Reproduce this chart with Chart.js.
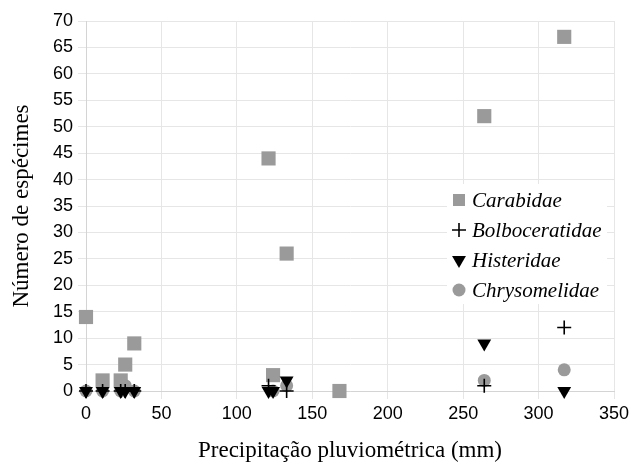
<!DOCTYPE html>
<html>
<head>
<meta charset="utf-8">
<script src="https://cdn.jsdelivr.net/npm/chart.js@4/dist/chart.umd.min.js"></script>
<style>
  body { margin: 0; background: #fff; }
</style>
</head>
<body>
<canvas id="grafico" width="634" height="464"></canvas>
<script>
// precipitação (mm) de cada coleta
var precipitacao = [0, 11, 23, 26, 32, 121, 124, 133, 168, 264, 317];

// número de espécimes por família (null = sem ponto)
var carabidae      = [14, 2, 2, 5, 9, 44, 3, 26, 0, 52, 67];
var bolboceratidae = [0, 0, 0, 0, 0, 1, null, 0, null, 1, 12];
var histeridae     = [0, 0, 0, 0, 0, 0, 0, 2, null, 9, 0];
var chrysomelidae  = [0, 0, 0, 1, 0, null, 0, 1, null, 2, 4];

var xTicks = [0, 50, 100, 150, 200, 250, 300, 350];
var yTicks = [0, 5, 10, 15, 20, 25, 30, 35, 40, 45, 50, 55, 60, 65, 70];

function pontos(valores) {
    let lista = [];
    for (let i = 0; i < precipitacao.length; i++) {
        if (valores[i] !== null) lista.push({ x: precipitacao[i], y: valores[i] });
    }
    return lista;
}

var cinza = '#9a9a9a';

var series = [
    { label: 'Carabidae', data: pontos(carabidae), pointStyle: 'rect', pointRadius: 10,
      backgroundColor: cinza, borderColor: cinza, pointBorderWidth: 0, order: 2 },
    { label: 'Bolboceratidae', data: pontos(bolboceratidae), pointStyle: 'cross', pointRadius: 7,
      backgroundColor: '#000', borderColor: '#000', pointBorderWidth: 1.6, order: 1 },
    { label: 'Histeridae', data: pontos(histeridae), pointStyle: 'triangle', pointRadius: 8, rotation: 180,
      backgroundColor: '#000', borderColor: '#000', pointBorderWidth: 0, order: 0 },
    { label: 'Chrysomelidae', data: pontos(chrysomelidae), pointStyle: 'circle', pointRadius: 6.5,
      backgroundColor: cinza, borderColor: cinza, pointBorderWidth: 0, order: 3 }
];

// legenda desenhada dentro da área do gráfico
var legendaInterna = {
    id: 'legendaInterna',
    afterDraw(chart) {
        const ctx = chart.ctx;
        const x0 = 459, y0 = 200, passo = 30;
        ctx.save();
        ctx.fillStyle = '#fff';
        ctx.fillRect(447, 184, 160, 120);
        series.forEach(function (s, i) {
            const y = y0 + i * passo;
            const opts = {
                pointStyle: s.pointStyle,
                radius: s.pointStyle === 'rect' ? 8.5 : s.pointRadius,
                rotation: s.rotation || 0,
                borderWidth: s.pointBorderWidth
            };
            ctx.fillStyle = s.backgroundColor;
            ctx.strokeStyle = s.borderColor;
            ctx.lineWidth = s.pointBorderWidth;
            Chart.helpers.drawPoint(ctx, opts, x0, y);
            ctx.fillStyle = '#000';
            ctx.font = 'italic 21px "Liberation Serif"';
            ctx.textBaseline = 'middle';
            ctx.textAlign = 'left';
            ctx.fillText(s.label, x0 + 13, y + 1);
        });
        ctx.restore();
    }
};

new Chart(document.getElementById('grafico'), {
    type: 'scatter',
    data: {
        datasets: series.map(function (s) {
            return {
                label: s.label,
                data: s.data,
                clip: false,
                pointStyle: s.pointStyle,
                pointRadius: s.pointRadius,
                pointHoverRadius: s.pointRadius,
                pointRotation: s.rotation || 0,
                backgroundColor: s.backgroundColor,
                borderColor: s.borderColor,
                pointBorderWidth: s.pointBorderWidth,
                order: s.order
            };
        })
    },
    options: {
        responsive: false,
        animation: false,
        layout: { padding: { top: 21, right: 20, bottom: 0, left: 0 } },
        plugins: {
            legend: { display: false },
            tooltip: { enabled: false }
        },
        scales: {
            x: {
                type: 'linear',
                min: 0,
                max: 350,
                afterBuildTicks: function (scale) {
                    scale.ticks = xTicks.map(function (v) { return { value: v }; });
                },
                afterFit: function (scale) { scale.height = 73; },
                grid: { color: '#e6e6e6', tickLength: 8 },
                border: { color: '#d4d4d4' },
                ticks: {
                    color: '#000',
                    padding: 4,
                    maxRotation: 0,
                    autoSkip: false,
                    font: { family: '"Liberation Sans"', size: 18 }
                },
                title: {
                    display: true,
                    text: 'Precipitação pluviométrica (mm)',
                    color: '#000',
                    padding: { top: 0, bottom: 0 },
                    font: { family: '"Liberation Serif"', size: 23, lineHeight: 1.1 }
                }
            },
            y: {
                type: 'linear',
                min: 0,
                max: 70,
                afterBuildTicks: function (scale) {
                    scale.ticks = yTicks.map(function (v) { return { value: v }; });
                },
                afterFit: function (scale) { scale.width = 86; },
                grid: { color: '#e6e6e6', tickLength: 8 },
                border: { color: '#d4d4d4' },
                ticks: {
                    color: '#000',
                    padding: 5,
                    autoSkip: false,
                    font: { family: '"Liberation Sans"', size: 18 }
                },
                title: {
                    display: true,
                    text: 'Número de espécimes',
                    color: '#000',
                    padding: { top: 9, bottom: 0 },
                    font: { family: '"Liberation Serif"', size: 23, lineHeight: 1.1 }
                }
            }
        }
    },
    plugins: [legendaInterna]
});
</script>
</body>
</html>
